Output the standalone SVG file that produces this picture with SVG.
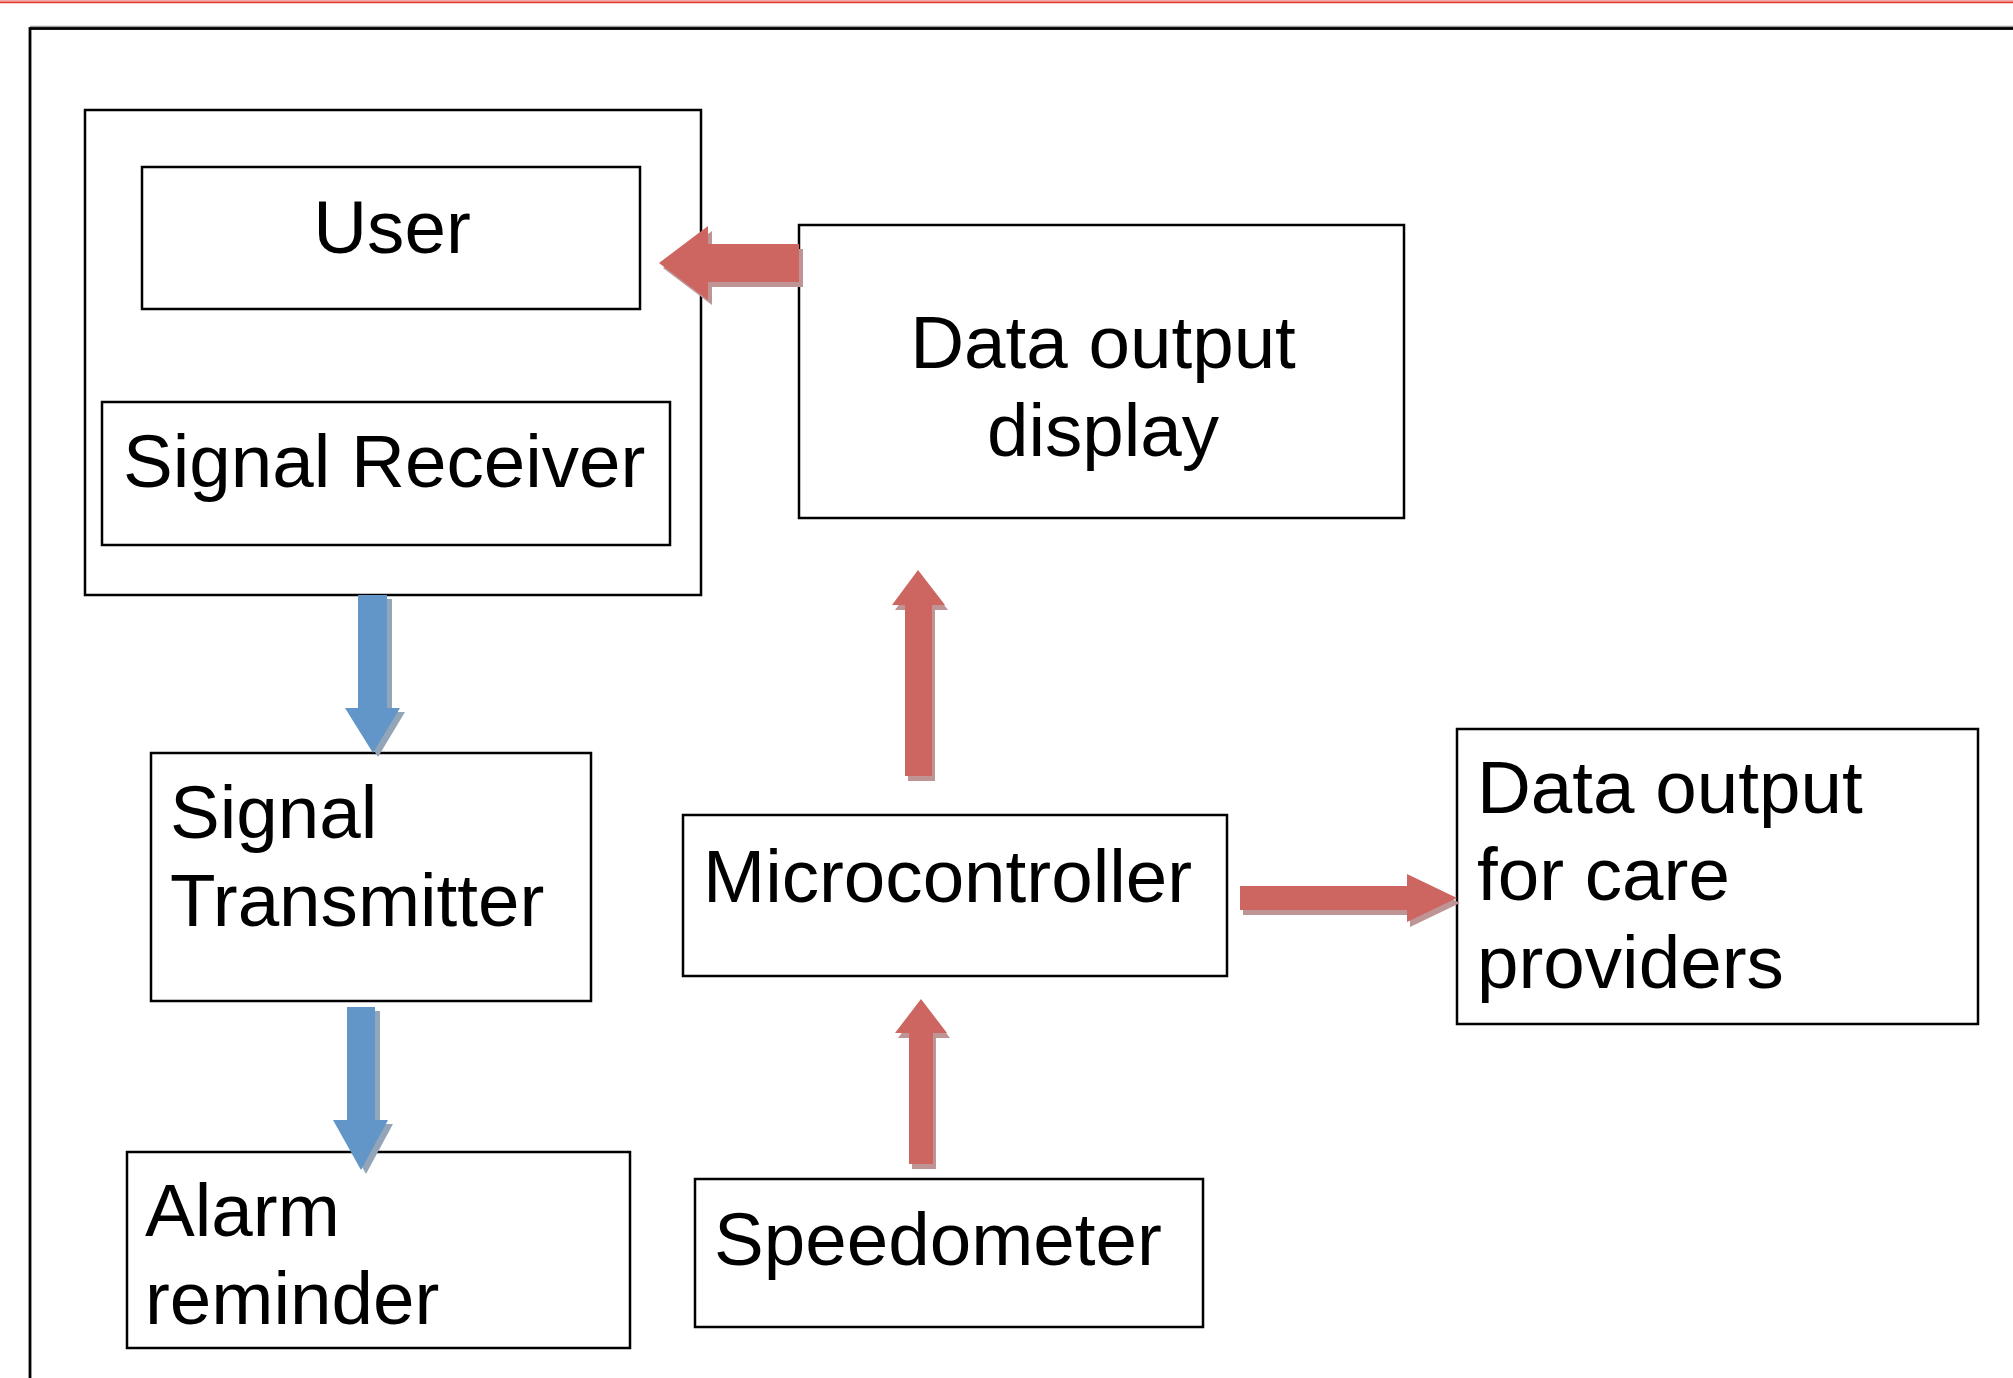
<svg xmlns="http://www.w3.org/2000/svg" width="2013" height="1378" viewBox="0 0 2013 1378">
  <style>
    .box { fill: #ffffff; stroke: #000000; stroke-width: 2.5; }
    .lbl { font-family: "Liberation Sans", Arial, sans-serif; font-size: 74.6px; fill: #000000; }
    .red { fill: #CD6660; }
    .redsh { fill: #BE9494; }
    .blue { fill: #6296C8; }
    .bluesh { fill: #93A5B8; }
  </style>
  <rect x="0" y="0" width="2013" height="1378" fill="#ffffff"/>
  <rect x="0" y="0" width="2013" height="2" fill="#F2A8A4"/>
  <line x1="0" y1="2.5" x2="2013" y2="2.5" stroke="#E53A30" stroke-width="1.5"/>
  <g id="frame">
    <line x1="30" y1="26.5" x2="2013" y2="26.5" stroke="#A0A0A0" stroke-width="1.5"/>
    <rect x="30" y="28.5" width="2100" height="1400" fill="none" stroke="#000000" stroke-width="2.8"/>
  </g>

  <g id="user-group">
    <rect class="box" x="85" y="110" width="616" height="485"/>
  </g>
  <g id="user">
    <rect class="box" x="142" y="167" width="498" height="142"/>
    <text class="lbl" x="392" y="253" text-anchor="middle">User</text>
  </g>
  <g id="signal-receiver">
    <rect class="box" x="102" y="402" width="568" height="143"/>
    <text class="lbl" x="123" y="487">Signal Receiver</text>
  </g>
  <g id="data-output-display">
    <rect class="box" x="799" y="225" width="605" height="293"/>
    <text class="lbl" x="1103" y="368" text-anchor="middle">Data output</text>
    <text class="lbl" x="1103" y="456" text-anchor="middle">display</text>
  </g>
  <g id="signal-transmitter">
    <rect class="box" x="151" y="753" width="440" height="248"/>
    <text class="lbl" x="170" y="838">Signal</text>
    <text class="lbl" x="170" y="926">Transmitter</text>
  </g>
  <g id="microcontroller">
    <rect class="box" x="683" y="815" width="544" height="161"/>
    <text class="lbl" x="703" y="902">Microcontroller</text>
  </g>
  <g id="data-output-care">
    <rect class="box" x="1457" y="729" width="521" height="295"/>
    <text class="lbl" x="1477" y="813">Data output</text>
    <text class="lbl" x="1477" y="900">for care</text>
    <text class="lbl" x="1477" y="988">providers</text>
  </g>
  <g id="alarm-reminder">
    <rect class="box" x="127" y="1152" width="503" height="196"/>
    <text class="lbl" x="145" y="1236">Alarm</text>
    <text class="lbl" x="145" y="1324">reminder</text>
  </g>
  <g id="speedometer">
    <rect class="box" x="695" y="1179" width="508" height="148"/>
    <text class="lbl" x="714" y="1265">Speedometer</text>
  </g>

  <g id="connectors">
    <g id="display-to-user">
      <polygon class="redsh" transform="translate(4,5)" points="799,244 708,244 708,226 659,263 708,300 708,282 799,282"/>
      <polygon class="red" points="799,244 708,244 708,226 659,263 708,300 708,282 799,282"/>
    </g>
    <g id="group-to-transmitter">
      <polygon class="bluesh" transform="translate(5,4)" points="358,595 387,595 387,708 400,708 373,753 345,708 358,708"/>
      <polygon class="blue" points="358,595 387,595 387,708 400,708 373,753 345,708 358,708"/>
    </g>
    <g id="transmitter-to-alarm">
      <polygon class="bluesh" transform="translate(5,4)" points="347,1007 375,1007 375,1120 388,1120 361,1170 333,1120 347,1120"/>
      <polygon class="blue" points="347,1007 375,1007 375,1120 388,1120 361,1170 333,1120 347,1120"/>
    </g>
    <g id="micro-to-display">
      <polygon class="redsh" transform="translate(3,5)" points="905,776 932,776 932,605 945,605 918,570 892,605 905,605"/>
      <polygon class="red" points="905,776 932,776 932,605 945,605 918,570 892,605 905,605"/>
    </g>
    <g id="speedo-to-micro">
      <polygon class="redsh" transform="translate(3,5)" points="909,1164 933,1164 933,1033 947,1033 921,999 895,1033 909,1033"/>
      <polygon class="red" points="909,1164 933,1164 933,1033 947,1033 921,999 895,1033 909,1033"/>
    </g>
    <g id="micro-to-care">
      <polygon class="redsh" transform="translate(3,5)" points="1240,886 1407,886 1407,874 1457,898 1407,922 1407,910 1240,910"/>
      <polygon class="red" points="1240,886 1407,886 1407,874 1457,898 1407,922 1407,910 1240,910"/>
    </g>
  </g>
</svg>
